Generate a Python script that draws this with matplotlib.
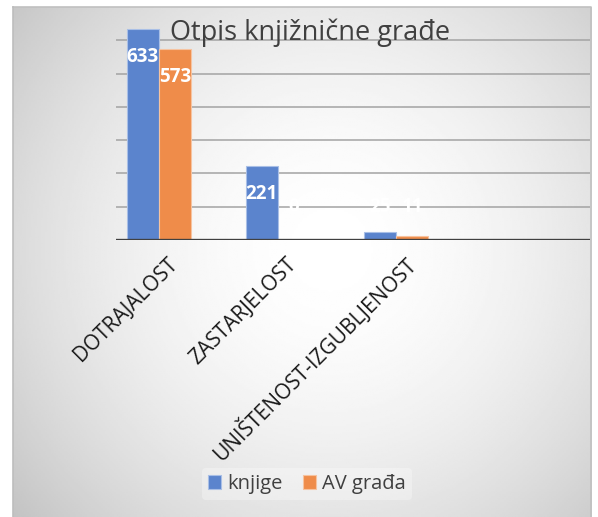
import numpy as np
import matplotlib.pyplot as plt

plt.rcParams['font.family'] = ['Open Sans', 'DejaVu Sans']

# data
categories = ['DOTRAJALOST', 'ZASTARJELOST', 'UNIŠTENOST-IZGUBLJENOST', '']
knjige = [633, 221, 25, np.nan]
av_grada = [573, 0, 11, np.nan]
treca = [0, 0, 0, np.nan]  # hidden third series, keeps the bars off-centre
series_names = ['knjige', 'AV građa']

W, H = 598, 517
fig = plt.figure(figsize=(W / 100, H / 100), dpi=100)

# chart area with a radial grey-white gradient
bg = fig.add_axes([12.5 / W, 0, (591 - 12.5) / W, (H - 7) / H])
xx, yy = np.meshgrid(np.linspace(12.5, 591, 300), np.linspace(7, H, 260))
r = np.sqrt((xx - 330) ** 2 + ((yy - 250) * 1.0) ** 2) / 420
shade = 1 - 0.24 * np.clip(r, 0, 1.2) ** 1.8
bg.imshow(shade, cmap='gray', vmin=0, vmax=1, aspect='auto',
          extent=(0, 1, 0, 1), origin='upper')
bg.set_axis_off()
bg.plot([0, 1, 1], [1, 1, 0], color='#c0c0c0', lw=1.2, transform=bg.transAxes,
        clip_on=False)
bg.plot([0, 0], [0, 1], color='#bdbdbd', lw=1.2, transform=bg.transAxes,
        clip_on=False)

ax = fig.add_axes([115.7 / W, (H - 240) / H, 474.3 / W, 233 / H])
ax.set_facecolor('none')
x = np.arange(len(categories))
bw = 0.27
blue = '#5b84cd'
orange = '#ef8c4a'
b1 = ax.bar(x - bw, knjige, bw, color=blue, edgecolor='#a9bfe6', lw=0.8,
            label=series_names[0], zorder=3)
b2 = ax.bar(x, av_grada, bw, color=orange, edgecolor='#f6c3a0', lw=0.8,
            label=series_names[1], zorder=3)
ax.bar(x + bw, treca, bw, color='none', zorder=3)

for bars, vals in ((b1, knjige), (b2, av_grada)):
    for rect, v in zip(bars, vals):
        if np.isnan(v):
            continue
        ax.text(rect.get_x() + rect.get_width() / 2, max(v - 82, 100), f'{v:.0f}',
                ha='center', va='center', color='white', fontsize=13.5,
                fontweight='bold', zorder=4)

ax.set_xlim(-0.5, 3.5)
ax.set_ylim(0, 700)
ax.set_yticks(range(100, 700, 100))
ax.yaxis.grid(True, color='#a3a3a3', lw=1.1, zorder=1)
ax.tick_params(axis='y', length=0, labelleft=False)
ax.axhline(0, color='#404040', lw=2.4, zorder=5)
for s in ax.spines.values():
    s.set_visible(False)

ax.set_xticks(x)
ax.set_xticklabels(categories, rotation=45, ha='right', va='center',
                   rotation_mode='anchor', fontsize=15, color='#1a1a1a')
ax.tick_params(axis='x', length=0, pad=15)

fig.text(310 / W, 1 - 33 / H, 'Otpis knjižnične građe', ha='center',
         va='center', fontsize=19.5, color='#404040')

leg = fig.legend(handles=[b1, b2], loc='center', ncol=2,
                 bbox_to_anchor=(307 / W, 1 - 484 / H), fontsize=14.5,
                 frameon=True, handlelength=0.65, handleheight=0.65,
                 handletextpad=0.3, columnspacing=1.0, borderpad=0.3)
leg.get_frame().set_facecolor('white')
leg.get_frame().set_alpha(0.3)
leg.get_frame().set_edgecolor('none')
for t in leg.get_texts():
    t.set_color('#404040')

fig.savefig('out.png', dpi=100)
